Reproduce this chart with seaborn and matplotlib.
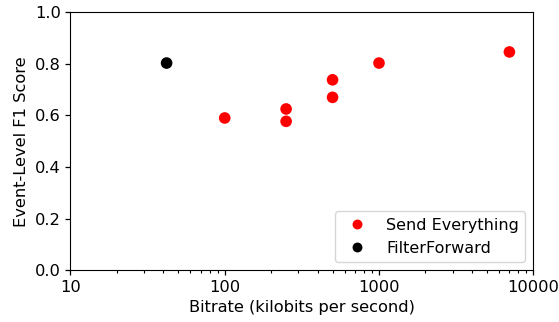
import pandas as pd
import seaborn as sns
import matplotlib.pyplot as plt
from matplotlib.ticker import FixedLocator, FixedFormatter, NullFormatter

send_bitrate = [100, 250, 250, 500, 500, 1000, 7000]
send_f1 = [0.59, 0.625, 0.577, 0.738, 0.670, 0.803, 0.846]
ff_bitrate = [42]
ff_f1 = [0.803]
methods = ['Send Everything', 'FilterForward']
minor_x = [m * 10 ** e for e in (1, 2, 3) for m in range(2, 10)]

df = pd.DataFrame({
    'bitrate': send_bitrate + ff_bitrate,
    'f1': send_f1 + ff_f1,
    'method': [methods[0]] * len(send_bitrate) + [methods[1]] * len(ff_bitrate),
})

sns.set_style('ticks', {'text.color': 'black', 'axes.labelcolor': 'black',
                        'xtick.color': 'black', 'ytick.color': 'black',
                        'axes.edgecolor': 'black'})
plt.rcParams['font.family'] = ['DejaVu Sans']
plt.rcParams['font.size'] = 11.7

fig, ax = plt.subplots(figsize=(5.59, 3.22), dpi=100)
sns.scatterplot(data=df, x='bitrate', y='f1', hue='method', hue_order=methods,
                palette={methods[0]: 'red', methods[1]: 'black'},
                s=70, linewidth=0, ax=ax)
ax.set_xscale('log')
ax.set_xlim(10, 10000)
ax.set_ylim(0, 1.0)
ax.xaxis.set_major_locator(FixedLocator([10, 100, 1000, 10000]))
ax.xaxis.set_major_formatter(FixedFormatter(['10', '100', '1000', '10000']))
ax.xaxis.set_minor_locator(FixedLocator(minor_x))
ax.xaxis.set_minor_formatter(NullFormatter())
ax.set_yticks([0, 0.2, 0.4, 0.6, 0.8, 1.0])
ax.set_yticklabels(['0.0', '0.2', '0.4', '0.6', '0.8', '1.0'])
ax.tick_params(which='major', labelsize=11.7, length=3.5, width=0.9, color='black')
ax.tick_params(which='minor', length=2.2, width=0.8, color='black')
ax.set_xlabel('Bitrate (kilobits per second)', fontsize=11.7)
ax.set_ylabel('Event-Level F1 Score', fontsize=11.7)
for sp in ax.spines.values():
    sp.set_visible(True)
    sp.set_color('black')
leg = ax.legend(loc='lower right', fontsize=11.5, title=None, markerscale=0.85)
for t in leg.get_texts():
    t.set_color('black')
plt.subplots_adjust(left=0.126, right=0.954, top=0.962, bottom=0.161)
plt.savefig('out.png', dpi=100)
